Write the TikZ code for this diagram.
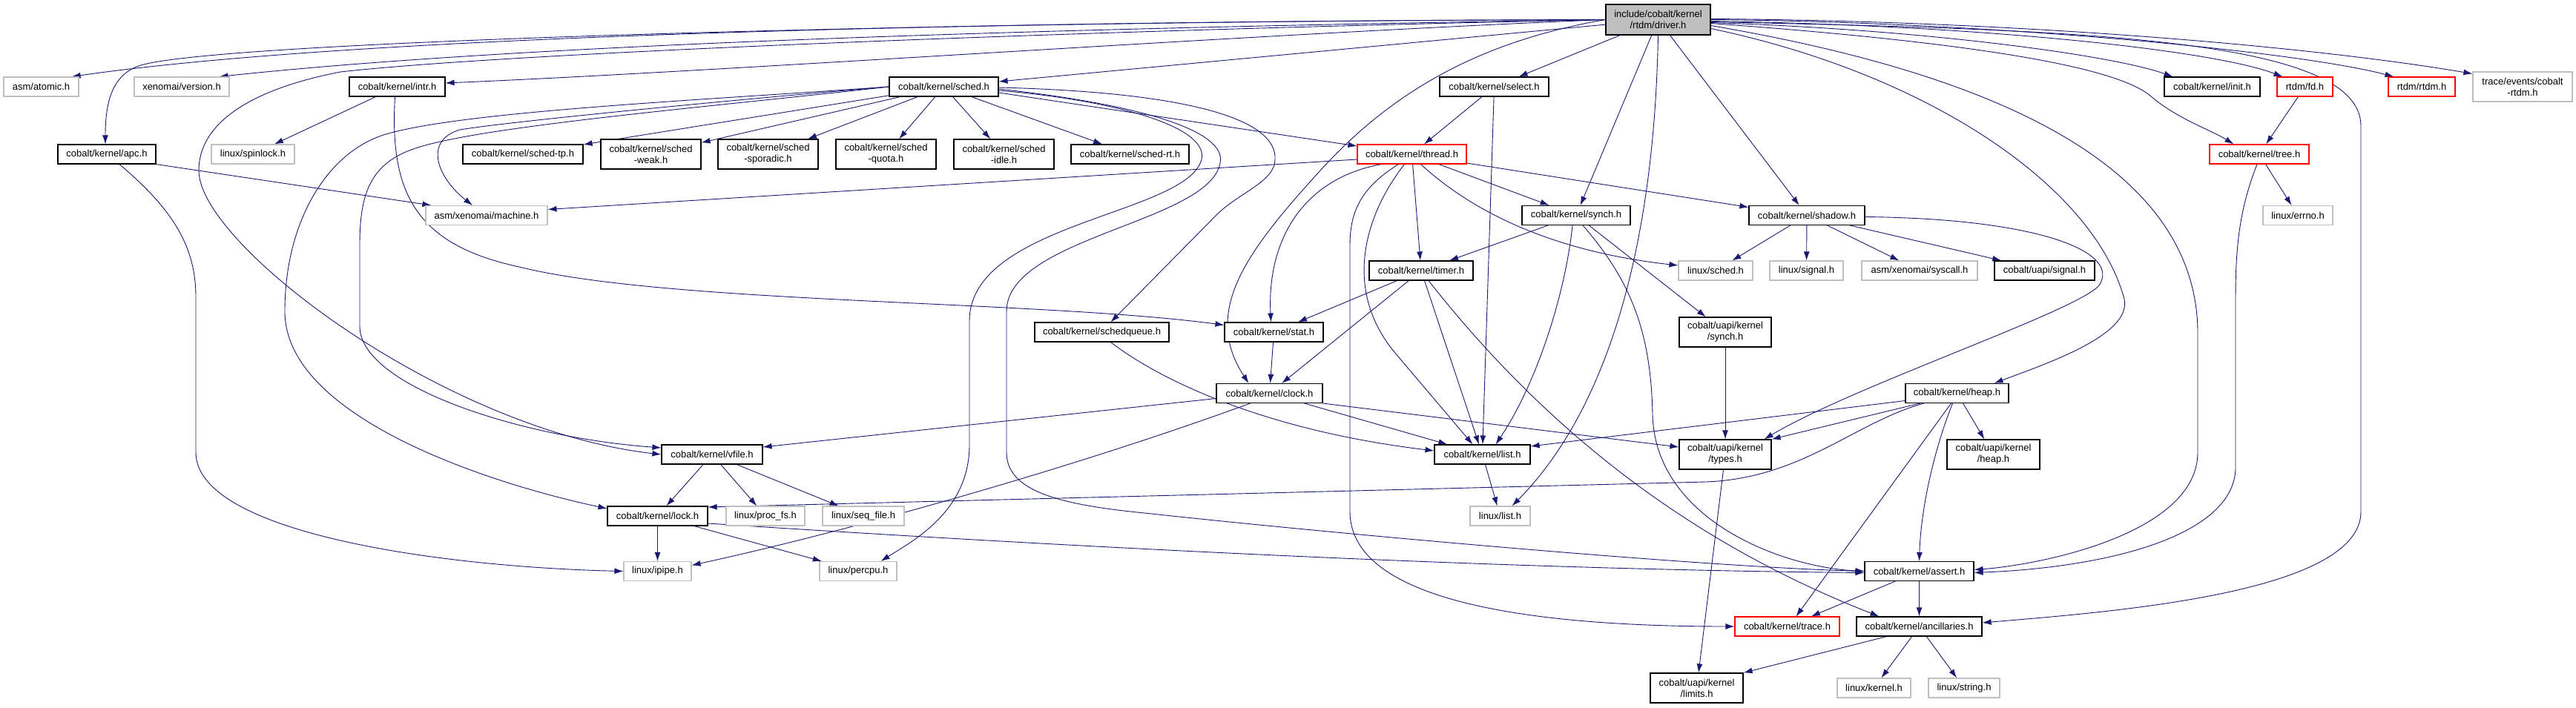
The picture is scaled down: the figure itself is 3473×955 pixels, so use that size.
\documentclass[tikz,border=0pt]{standalone}
\usepackage{fontspec}
\setmainfont{Liberation Sans}
\usetikzlibrary{arrows.meta}
\definecolor{edgec}{HTML}{191970}
\definecolor{gborder}{HTML}{BFBFBF}
\definecolor{dfill}{HTML}{BFBFBF}
\newcommand\dxfont{\fontsize{13}{15}\selectfont}
\pgfdeclarelayer{bg}
\pgfsetlayers{bg,main}
\tikzset{
  box/.style={rectangle, inner sep=0pt, align=center, font=\dxfont, text=black, fill=white, minimum height=26pt},
  nd/.style={box, draw=black, line width=1.1pt},
  ng/.style={box, draw=gborder, line width=1.1pt},
  nr/.style={box, draw=red, line width=1.1pt},
  tall/.style={minimum height=40pt},
  mw/.style={minimum width=#1pt},
  e/.style={draw=edgec, line width=0.9pt, -{Latex[length=12pt,width=8pt]}},
}
\begin{document}
\begin{tikzpicture}[x=1pt,y=-1pt]
\useasboundingbox (0,0) rectangle (3473,955);
% row 1
\node[nd, fill=dfill, mw=141, minimum height=41pt] (driver) at (2235.5,26.5) {include/cobalt/kernel\\/rtdm/driver.h};
% row 2
\node[ng, mw=101] (atomic) at (55.5,117) {asm/atomic.h};
\node[ng, mw=128] (version) at (245,117) {xenomai/version.h};
\node[nd, mw=129] (intr) at (535.5,117) {cobalt/kernel/intr.h};
\node[nd, mw=147] (sched) at (1272.5,117) {cobalt/kernel/sched.h};
\node[nd, mw=147] (select) at (2014.5,117) {cobalt/kernel/select.h};
\node[nd, mw=129] (init) at (2982.5,117) {cobalt/kernel/init.h};
\node[nr, mw=75] (fd) at (3107.5,117) {rtdm/fd.h};
\node[nr, mw=90] (rtdm) at (3265,117) {rtdm/rtdm.h};
\node[ng, mw=134, tall] (traceev) at (3401,117) {trace/events/cobalt\\-rtdm.h};
% row 3
\node[nd, mw=132] (apc) at (144,208) {cobalt/kernel/apc.h};
\node[ng, mw=112] (spinlock) at (341,208) {linux/spinlock.h};
\node[nd, mw=162] (schedtp) at (705,208) {cobalt/kernel/sched-tp.h};
\node[nd, mw=135, tall] (schedweak) at (877.5,208) {cobalt/kernel/sched\\-weak.h};
\node[nd, mw=135, tall] (schedspor) at (1035.5,208) {cobalt/kernel/sched\\-sporadic.h};
\node[nd, mw=135, tall] (schedquota) at (1194.5,208) {cobalt/kernel/sched\\-quota.h};
\node[nd, mw=135, tall] (schedidle) at (1353.5,208) {cobalt/kernel/sched\\-idle.h};
\node[nd, mw=159] (schedrt) at (1523.5,208) {cobalt/kernel/sched-rt.h};
\node[nr, mw=147] (thread) at (1903.5,208) {cobalt/kernel/thread.h};
\node[nr, mw=134] (tree) at (3046,208) {cobalt/kernel/tree.h};
% row 4
\node[ng, mw=164] (machine) at (656,290.5) {asm/xenomai/machine.h};
\node[nd, mw=146] (synch) at (2125,290.5) {cobalt/kernel/synch.h};
\node[nd, mw=156] (shadow) at (2436,290.5) {cobalt/kernel/shadow.h};
\node[ng, mw=94] (errno) at (3098,290.5) {linux/errno.h};
% row 5
\node[nd, mw=140] (timer) at (1916,365) {cobalt/kernel/timer.h};
\node[ng, mw=100] (lsched) at (2313,365) {linux/sched.h};
\node[ng, mw=99] (lsignal) at (2435.5,365) {linux/signal.h};
\node[ng, mw=156] (syscall) at (2588,365) {asm/xenomai/syscall.h};
\node[nd, mw=135] (usignal) at (2756.5,365) {cobalt/uapi/signal.h};
% row 6
\node[nd, mw=181] (schedqueue) at (1485.5,448) {cobalt/kernel/schedqueue.h};
\node[nd, mw=133] (stat) at (1717.5,448) {cobalt/kernel/stat.h};
\node[nd, mw=124, tall] (usynch) at (2326,448) {cobalt/uapi/kernel\\/synch.h};
% row 7
\node[nd, mw=143] (clock) at (1711.5,530.5) {cobalt/kernel/clock.h};
\node[nd, mw=139] (heap) at (2638.5,530.5) {cobalt/kernel/heap.h};
% row 8
\node[nd, mw=136] (vfile) at (960,613) {cobalt/kernel/vfile.h};
\node[nd, mw=129] (list) at (1998.5,613) {cobalt/kernel/list.h};
\node[nd, mw=124, tall] (utypes) at (2326,613) {cobalt/uapi/kernel\\/types.h};
\node[nd, mw=125, tall] (uheap) at (2687.5,613) {cobalt/uapi/kernel\\/heap.h};
% row 9
\node[nd, mw=135] (lock) at (886.5,696) {cobalt/kernel/lock.h};
\node[ng, mw=106] (procfs) at (1032,696) {linux/proc\_fs.h};
\node[ng, mw=110] (seqfile) at (1164,696) {linux/seq\_file.h};
\node[ng, mw=81] (llist) at (2022.5,696) {linux/list.h};
% row 10
\node[ng, mw=91] (ipipe) at (886.5,770.5) {linux/ipipe.h};
\node[ng, mw=104] (percpu) at (1157,770.5) {linux/percpu.h};
\node[nd, mw=147] (assert) at (2587.5,770.5) {cobalt/kernel/assert.h};
% row 11
\node[nr, mw=141] (trace) at (2409.5,845) {cobalt/kernel/trace.h};
\node[nd, mw=169] (ancill) at (2587.5,845) {cobalt/kernel/ancillaries.h};
% row 12
\node[nd, mw=125, tall] (limits) at (2287.5,928) {cobalt/uapi/kernel\\/limits.h};
\node[ng, mw=99] (lkernel) at (2526.5,928) {linux/kernel.h};
\node[ng, mw=96] (lstring) at (2648,928) {linux/string.h};

\begin{pgfonlayer}{bg}
% driver.h
\draw[e] (driver.west) .. controls (1400,28) and (500,45) .. ([xshift=-10pt]atomic.north east);
\draw[e] (driver.west) .. controls (1400,38) and (700,60) .. ([xshift=-14pt]version.north east);
\draw[e] (driver.west) .. controls (1300,28) and (300,55) .. (190,88) .. controls (150,100) and (142,140) .. ([xshift=-2pt]apc.north);
\draw[e] (driver.west) .. controls (1700,45) and (1000,95) .. ([yshift=5pt]intr.east);
\draw[e] (driver) -- (sched);
\draw[e] (driver) -- (select);
\draw[e] (driver) -- (synch);
\draw[e] (driver) -- (shadow);
\draw[e] (driver.south) .. controls (2230,350) and (2160,560) .. ([xshift=-25pt]llist.north east);
\draw[e] (driver.west) .. controls (1500,40) and (700,70) .. (459,97) .. controls (330,122) and (268,170) .. (268,230) .. controls (268,330) and (600,580) .. (vfile.west);
\draw[e] (driver.west) .. controls (2000,55) and (1880,120) .. (1780,230) .. controls (1680,340) and (1620,420) .. ([xshift=44pt]clock.north west);
\draw[e] ([yshift=-12pt]driver.east) .. controls (2600,100) and (2820,250) .. (2863,400) .. controls (2880,450) and (2760,490) .. ([xshift=-20pt]heap.north east);
\draw[e] ([yshift=-8pt]driver.east) .. controls (2750,110) and (2963,250) .. (2963,450) -- (2963,610) .. controls (2963,720) and (2750,762) .. ([yshift=2pt]assert.east);
\draw[e] ([yshift=-5pt]driver.east) .. controls (2700,60) and (2860,95) .. (2900,130) .. controls (2935,160) and (2980,175) .. ([xshift=33pt]tree.north west);
\draw[e] ([yshift=-3pt]driver.east) .. controls (2800,40) and (3183,50) .. (3183,170) -- (3183,690) .. controls (3183,800) and (2850,825) .. ([yshift=5pt]ancill.east);
\draw[e] ([yshift=-4pt]driver.east) .. controls (2600,40) and (2850,75) .. ([xshift=12pt]init.north west);
\draw[e] ([yshift=-2pt]driver.east) .. controls (2700,35) and (2990,70) .. ([xshift=8pt]fd.north west);
\draw[e] (driver.east) .. controls (2700,30) and (3100,70) .. ([xshift=8pt]rtdm.north west);
\draw[e] ([yshift=1pt]driver.east) .. controls (2700,28) and (3100,60) .. ([yshift=-3pt]traceev.north west);
% sched.h
\draw[e] (sched) -- (schedtp);
\draw[e] (sched) -- (schedweak);
\draw[e] (sched) -- (schedspor);
\draw[e] (sched) -- (schedquota);
\draw[e] (sched) -- (schedidle);
\draw[e] (sched) -- (schedrt);
\draw[e] ([yshift=-8pt]sched.east) -- ([yshift=11pt]thread.west);
\draw[e] (sched.west) .. controls (950,138) and (680,165) .. (620,175) .. controls (570,190) and (590,240) .. ([xshift=-19pt]machine.north);
\draw[e] (sched.west) .. controls (950,135) and (620,150) .. (517,182) .. controls (440,207) and (384,300) .. (384,420) .. controls (384,560) and (650,650) .. ([yshift=10pt]lock.west);
\draw[e] (sched.west) .. controls (950,145) and (650,170) .. (560,200) .. controls (500,220) and (485,260) .. (485,330) -- (485,440) .. controls (485,520) and (700,590) .. ([yshift=9pt]vfile.west);
\draw[e] ([yshift=-5pt]sched.east) .. controls (1500,135) and (1630,170) .. (1620,215) .. controls (1600,290) and (1307,300) .. (1307,433) -- (1307,600) .. controls (1307,690) and (1230,730) .. ([xshift=-22pt]percpu.north east);
\draw[e] ([yshift=-3pt]sched.east) .. controls (1530,140) and (1655,175) .. (1645,220) .. controls (1630,300) and (1357,320) .. (1357,420) -- (1357,610) .. controls (1357,660) and (1420,680) .. (1543,692) .. controls (1800,720) and (2300,765) .. (assert.west);
\draw[e] ([yshift=-1pt]sched.east) .. controls (1620,125) and (1722,165) .. (1719,215) .. controls (1719,245) and (1670,260) .. (1640,290) -- ([xshift=12pt]schedqueue.north);
% thread.h
\draw[e] ([yshift=-7pt]thread.west) -- ([yshift=8pt]machine.east);
\draw[e] ([xshift=-41pt]thread.south) .. controls (1760,240) and (1708,320) .. ([xshift=-4pt]stat.north);
\draw[e] ([xshift=-18pt]thread.south) .. controls (1840,250) and (1820,280) .. (1820,330) -- (1820,690) .. controls (1820,820) and (2100,845) .. (trace.west);
\draw[e] ([xshift=-10pt]thread.south) .. controls (1840,290) and (1810,390) .. (1880,475) -- ([xshift=-13pt]list.north);
\draw[e] (thread) -- (timer);
\draw[e] ([xshift=12pt]thread.south) .. controls (1990,290) and (2100,340) .. ([yshift=7pt]lsched.west);
\draw[e] (thread) -- (synch);
\draw[e] ([yshift=-12pt]thread.east) -- ([yshift=11pt]shadow.west);
% select.h
\draw[e] (select) -- (thread);
\draw[e] (select) -- (list);
% synch.h
\draw[e] (synch) -- (timer);
\draw[e] ([xshift=-5pt]synch.south) .. controls (2110,400) and (2070,520) .. ([xshift=18pt]list.north);
\draw[e] ([xshift=9pt]synch.south) .. controls (2200,380) and (2226,450) .. (2228,560) .. controls (2232,700) and (2400,765) .. (assert.west);
\draw[e] (synch) -- (usynch);
% timer.h
\draw[e] (timer) -- (stat);
\draw[e] (timer) -- (clock);
\draw[e] (timer) -- (list);
\draw[e] ([xshift=10pt]timer.south) .. controls (2100,600) and (2300,740) .. ([xshift=31pt]ancill.north west);
% stat.h
\draw[e] (stat) -- (clock);
% intr.h
\draw[e] (intr) -- (spinlock);
\draw[e] ([xshift=-3pt]intr.south) .. controls (525,260) and (560,330) .. (700,360) .. controls (900,410) and (1400,405) .. ([yshift=-4pt]stat.north west);
% apc.h
\draw[e] (apc.south east) -- ([xshift=8pt]machine.north west);
\draw[e] ([xshift=17pt]apc.south) .. controls (230,280) and (264,330) .. (264,400) -- (264,610) .. controls (264,720) and (600,765) .. (ipipe.west);
% vfile.h
\draw[e] (vfile) -- (lock);
\draw[e] (vfile) -- (procfs);
\draw[e] (vfile) -- (seqfile);
% lock.h
\draw[e] (lock) -- (ipipe);
\draw[e] (lock) -- (percpu);
\draw[e] ([yshift=-10pt]lock.east) .. controls (1400,735) and (2000,768) .. ([yshift=-2pt]assert.west);
% clock.h
\draw[e] (clock) -- (list);
\draw[e] (clock.south east) -- ([yshift=10pt]utypes.west);
\draw[e] ([yshift=-7pt]clock.west) -- ([yshift=10pt]vfile.east);
\draw[e] ([xshift=-26pt]clock.south) .. controls (1450,630) and (1150,715) .. ([yshift=8pt]ipipe.east);
% schedqueue.h
\draw[e] ([xshift=12pt]schedqueue.south) .. controls (1560,510) and (1700,580) .. ([yshift=5pt]list.west);
% heap.h
\draw[e] ([yshift=-10pt]heap.west) -- ([yshift=11pt]list.east);
\draw[e] ([xshift=-45pt]heap.south) .. controls (2500,570) and (2430,645) .. (2300,650) -- ([yshift=12pt]lock.east);
\draw[e] ([xshift=-50pt]heap.south) -- (utypes.north east);
\draw[e] ([xshift=-8pt]heap.south) -- ([xshift=12pt]trace.north);
\draw[e] ([xshift=-6pt]heap.south) .. controls (2610,600) and (2590,680) .. (assert.north);
\draw[e] (heap) -- (uheap);
% shadow.h
\draw[e] (shadow) -- (lsched);
\draw[e] (shadow) -- (lsignal);
\draw[e] (shadow) -- (syscall);
\draw[e] (shadow) -- (usignal);
\draw[e] ([yshift=-2pt]shadow.east) .. controls (2750,295) and (2860,340) .. (2830,385) .. controls (2800,420) and (2500,520) .. ([xshift=-10pt]utypes.north east);
% tree.h, fd.h
\draw[e] (tree) -- (errno);
\draw[e] ([xshift=-3pt]tree.south) .. controls (3020,280) and (3014,330) .. (3014,400) -- (3014,630) .. controls (3014,720) and (2850,765) .. ([yshift=-2pt]assert.east);
\draw[e] (fd) -- (tree);
% assert.h, ancillaries.h
\draw[e] (assert) -- (trace);
\draw[e] (assert) -- (ancill);
\draw[e] ([xshift=-44pt]ancill.south) -- (limits.north east);
\draw[e] (ancill) -- (lkernel);
\draw[e] (ancill) -- (lstring);
% uapi
\draw[e] (usynch) -- (utypes);
\draw[e] (utypes) -- (limits);
\draw[e] (list) -- (llist);
\end{pgfonlayer}
\end{tikzpicture}
\end{document}
